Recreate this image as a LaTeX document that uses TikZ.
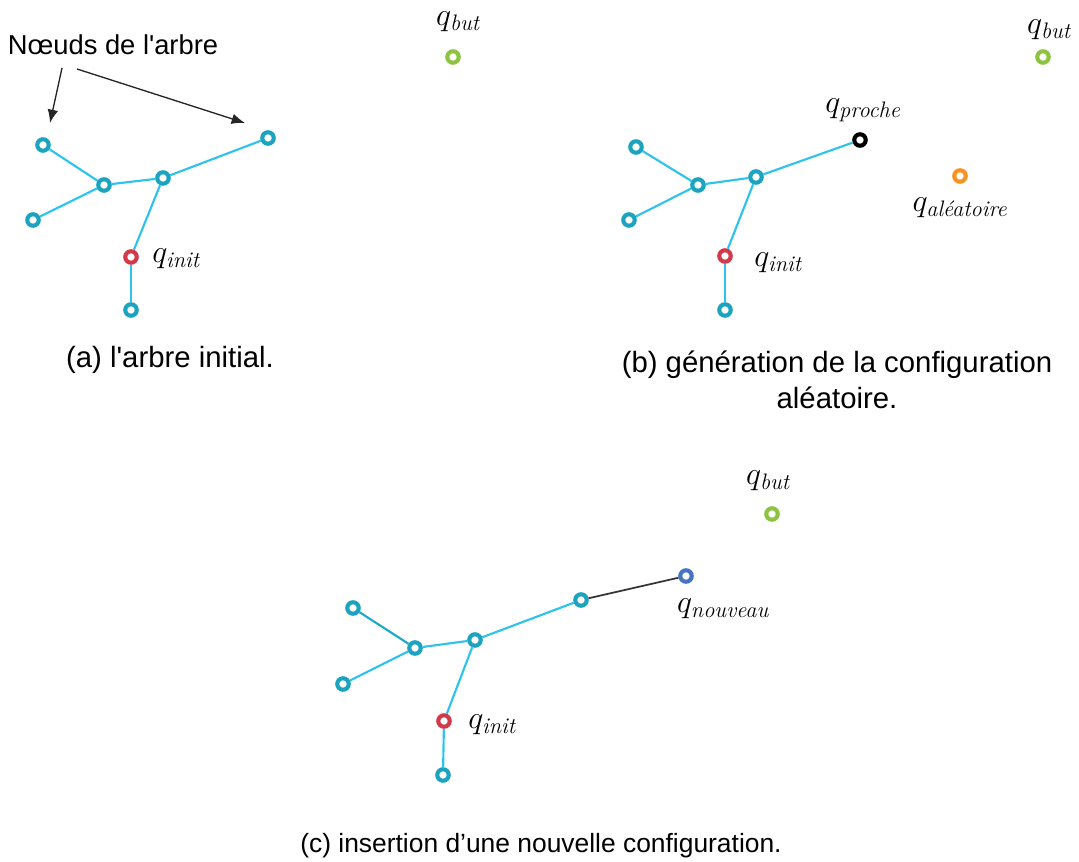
\RequirePackage{fix-cm}
\documentclass[tikz,border=0pt]{standalone}
\usepackage{amsmath}
\usepackage{fontspec}
\setmainfont{Liberation Sans}
\newfontfamily\subfont{Latin Modern Roman}
\newcommand\qsub[1]{$q_{\text{\subfont\itshape #1}}$}
\usetikzlibrary{arrows.meta}
\definecolor{treeteal}{HTML}{1BA3BF}
\definecolor{edgecyan}{HTML}{2EC3EE}
\definecolor{initred}{HTML}{D2394B}
\definecolor{goalgreen}{HTML}{8CC43F}
\definecolor{randorange}{HTML}{F7931E}
\definecolor{newblue}{HTML}{4675C0}
\tikzset{
  vtx/.style={circle, draw=#1, line width=3.1pt, fill=white, minimum size=8.6pt, inner sep=0pt},
  vtx/.default=treeteal,
  edge/.style={draw=edgecyan, line width=1.6pt},
  qlab/.style={inner sep=0pt, font=\fontsize{24}{28}\selectfont},
  caption/.style={inner sep=0pt, font=\fontsize{22}{27}\selectfont, align=center},
  pointer/.style={draw=black!85, line width=1pt, -{Latex[length=10pt, width=8pt]}}
}
\begin{document}
\begin{tikzpicture}[x=0.75pt, y=-0.75pt]
\useasboundingbox (0,0) rectangle (1079,862);

% ---------- (a) initial tree ----------
\node[vtx] (a1) at (43,145) {};
\node[vtx] (a2) at (104,185) {};
\node[vtx] (a3) at (163,178) {};
\node[vtx] (a4) at (268,138) {};
\node[vtx] (a5) at (33,220) {};
\node[vtx=initred] (ainit) at (131,257) {};
\node[vtx] (a6) at (131,310) {};
\node[vtx=goalgreen] (agoal) at (453,57) {};
\draw[edge] (a1) -- (a2);
\draw[edge] (a5) -- (a2);
\draw[edge] (a2) -- (a3);
\draw[edge] (a3) -- (a4);
\draw[edge] (a3) -- (ainit);
\draw[edge] (ainit) -- (a6);
\node[qlab, anchor=west] (ainitlab) at (152,259) {\qsub{init}};
\node[qlab] (agoallab) at (458,22) {\qsub{but}};
\node[inner sep=0pt, font=\fontsize{20.5}{24}\selectfont] (tag) at (113,45) {Nœuds de l\textquotesingle arbre};
\coordinate (tagL) at (62,68);
\coordinate (tagR) at (77,69);
\coordinate (tipL) at (50,123);
\coordinate (tipR) at (245,123);
\draw[pointer] (tagL) -- (tipL);
\draw[pointer] (tagR) -- (tipR);
\node[caption] (capa) at (170,360) {(a) l\textquotesingle arbre initial.};

% ---------- (b) random configuration ----------
\node[vtx] (b1) at (636,147) {};
\node[vtx] (b2) at (698,185) {};
\node[vtx] (b3) at (756,177) {};
\node[vtx=black] (bnear) at (860,140) {};
\node[vtx] (b5) at (629,220) {};
\node[vtx=initred] (binit) at (725,256) {};
\node[vtx] (b6) at (725,310) {};
\node[vtx=randorange] (brand) at (960,176) {};
\node[vtx=goalgreen] (bgoal) at (1043,57) {};
\draw[edge] (b1) -- (b2);
\draw[edge] (b5) -- (b2);
\draw[edge] (b2) -- (b3);
\draw[edge] (b3) -- (bnear);
\draw[edge] (b3) -- (binit);
\draw[edge] (binit) -- (b6);
\node[qlab, anchor=west] (binitlab) at (754,263) {\qsub{init}};
\node[qlab] (bnearlab) at (863,110) {\qsub{proche}};
\node[qlab] (brandlab) at (960,208) {\qsub{aléatoire}};
\node[qlab] (bgoallab) at (1049,30) {\qsub{but}};
\node[caption] (capb) at (837,380) {(b) génération de la configuration\\aléatoire.};

% ---------- (c) new configuration ----------
\node[vtx] (c1) at (353,608) {};
\node[vtx] (c2) at (415,648) {};
\node[vtx] (c3) at (475,640) {};
\node[vtx] (c4) at (581,600) {};
\node[vtx=newblue] (cnew) at (686,576) {};
\node[vtx] (c5) at (343,684) {};
\node[vtx=initred] (cinit) at (444,721) {};
\node[vtx] (c6) at (443,775) {};
\node[vtx=goalgreen] (cgoal) at (772,514) {};
\draw[edge, draw=treeteal!80!edgecyan] (c1) -- (c2);
\draw[edge] (c5) -- (c2);
\draw[edge] (c2) -- (c3);
\draw[edge] (c3) -- (c4);
\draw[edge] (c3) -- (cinit);
\draw[edge] (cinit) -- (c6);
\draw[line width=1.3pt, draw=black!80] (c4) -- (cnew);
\node[qlab, anchor=west] (cinitlab) at (468,725) {\qsub{init}};
\node[qlab] (cnewlab) at (723,609) {\qsub{nouveau}};
\node[qlab] (cgoallab) at (768,481) {\qsub{but}};
\node[caption, font=\fontsize{19.8}{24}\selectfont] (capc) at (541,846) {(c) insertion d’une nouvelle configuration.};
\end{tikzpicture}
\end{document}
